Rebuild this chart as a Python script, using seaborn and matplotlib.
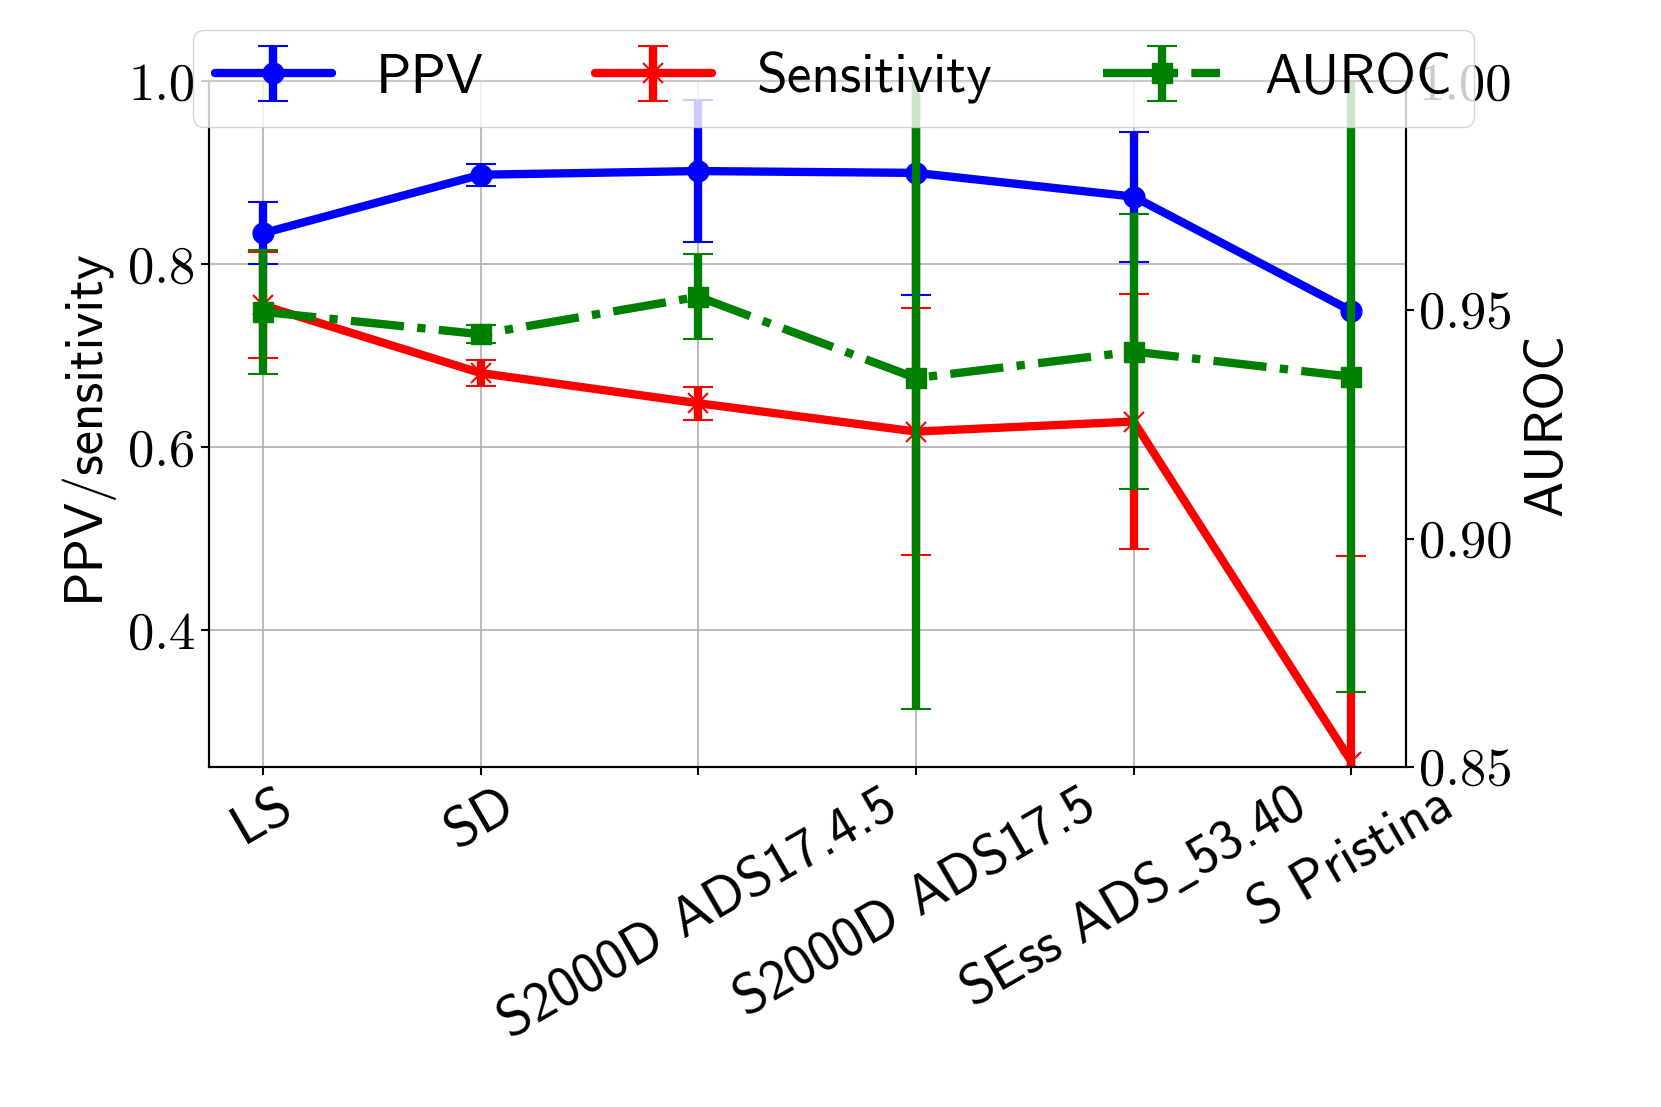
import numpy as np
import matplotlib
matplotlib.use('Agg')
import matplotlib.pyplot as plt
import seaborn as sns

configs = ['LS', 'SD', 'S2000D ADS17.4.5', 'S2000D ADS17.5', r'SEss ADS$\_$53.40', 'S Pristina']
ppv = [0.834, 0.898, 0.902, 0.900, 0.874, 0.749]
ppv_err = [0.034, 0.012, 0.078, 0.134, 0.071, np.nan]
sens = [0.755, 0.681, 0.648, 0.617, 0.628, 0.256]
sens_err = [0.058, 0.014, 0.018, 0.135, 0.140, 0.225]
auroc = [0.9496, 0.9447, 0.9529, 0.9351, 0.9409, 0.9354]
auroc_err = [0.0135, 0.002, 0.0093, 0.0723, 0.030, 0.069]

sns.set_style('ticks')
plt.rcParams['font.family'] = ['cmss10', 'DejaVu Sans']
plt.rcParams['mathtext.fontset'] = 'cm'
plt.rcParams['axes.formatter.use_mathtext'] = True
plt.rcParams['font.size'] = 39
for k in ('text.color', 'axes.labelcolor', 'xtick.color', 'ytick.color'):
    plt.rcParams[k] = 'black'

x = np.arange(len(configs))
fig, ax = plt.subplots(figsize=(16.61, 11.07), dpi=100)
fig.subplots_adjust(left=0.1256, right=0.8463, top=0.9264, bottom=0.3071)
ax2 = ax.twinx()

kw = dict(lw=6, ms=15, capsize=11, capthick=1.5)
h1 = ax.errorbar(x, ppv, yerr=ppv_err, color='blue', marker='o', ls='-', label='PPV', **kw)
h2 = ax.errorbar(x, sens, yerr=sens_err, color='red', marker='x', ls='-', mew=1.5,
                 label='Sensitivity', **kw)
h3 = ax2.errorbar(x, auroc, yerr=auroc_err, color='green', marker='s', ls='-.',
                  label='AUROC', **kw)

ax.set_ylim(0.25, 1.0)
ax2.set_ylim(0.85, 1.0)
ax.set_yticks([0.4, 0.6, 0.8, 1.0])
ax2.set_yticks([0.85, 0.90, 0.95, 1.00])
ax.set_yticklabels(['0.4', '0.6', '0.8', '1.0'], fontfamily='cmr10', fontsize=38)
ax2.set_yticklabels(['0.85', '0.90', '0.95', '1.00'], fontfamily='cmr10', fontsize=38)
ax.set_xticks(x)
ax.set_xticklabels(configs, rotation=30, fontsize=40)
ax.grid(True, color='#b0b0b0', lw=1.2)
for a in (ax, ax2):
    for s in a.spines.values():
        s.set_linewidth(1.5)
        s.set_color('black')
    a.tick_params(width=1.5, length=6)

ax.set_ylabel('PPV/sensitivity', fontsize=39, labelpad=12)
ax2.set_ylabel('AUROC', fontsize=39, labelpad=8)

# legend sits over the top of the axes, like the original (covers the 1.00 label)
ax2.legend([h1, h2, h3], ['PPV', 'Sensitivity', 'AUROC'], ncol=3,
           loc='upper left', bbox_to_anchor=(0.116, 0.973), bbox_transform=fig.transFigure,
           fontsize=40, borderaxespad=0, handlelength=2.1)

fig.savefig('out.png', dpi=100)
